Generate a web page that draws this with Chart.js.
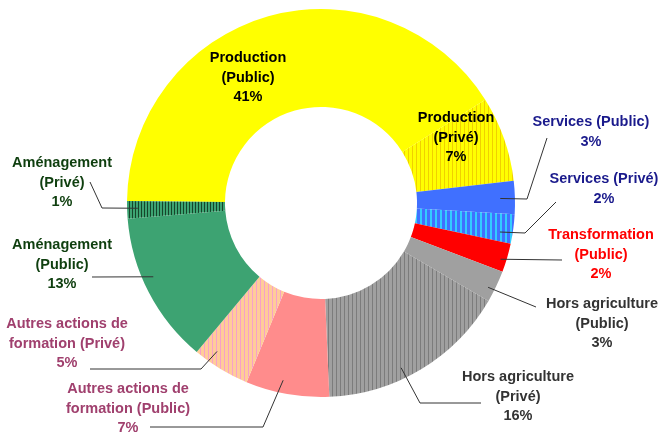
<!DOCTYPE html>
<html>
<head>
<meta charset="utf-8">
<script src="https://cdn.jsdelivr.net/npm/chart.js@4/dist/chart.umd.min.js"></script>
<style>
  html, body { margin: 0; padding: 0; background: #fff; }
  #box { width: 662px; height: 434px; }
</style>
</head>
<body>
<div id="box"><canvas id="donut"></canvas></div>
<script>
// categories, in drawing order (clockwise, starting at the left)
const categories = [
  "Production (Public)", "Production (Privé)", "Services (Public)", "Services (Privé)",
  "Transformation (Public)", "Hors agriculture (Public)", "Hors agriculture (Privé)",
  "Autres actions de formation (Public)", "Autres actions de formation (Privé)",
  "Aménagement (Public)", "Aménagement (Privé)"
];
// share of each category, in %
const shares = [40.9, 7.1, 2.75, 2.45, 2.4, 2.65, 15.9, 6.95, 4.8, 12.65, 1.45];
// label text lines (the % line is added from the data)
const labelLines = [
  ["Production", "(Public)"],
  ["Production", "(Privé)"],
  ["Services (Public)"],
  ["Services (Privé)"],
  ["Transformation", "(Public)"],
  ["Hors agriculture", "(Public)"],
  ["Hors agriculture", "(Privé)"],
  ["Autres actions de", "formation (Public)"],
  ["Autres actions de", "formation (Privé)"],
  ["Aménagement", "(Public)"],
  ["Aménagement", "(Privé)"]
];

// label layout: text centre x, first line y, text colour,
// leader start inside the slice (fraction of angle, fraction of ring depth), elbows
const labelLayout = [
  { x: 248, y: 58, color: "#000000", path: null },
  { x: 456, y: 118, color: "#000000", path: null },
  { x: 591, y: 122, color: "#1a1a8c", at: [0.52, 0.85], path: [[527, 199], [547, 138]] },
  { x: 604, y: 179, color: "#1a1a8c", at: [0.67, 0.87], path: [[525, 233], [556, 202]] },
  { x: 601, y: 235, color: "#ff0000", at: [0.61, 0.94], path: [[562, 260]] },
  { x: 602, y: 304, color: "#333333", at: [0.63, 0.93], path: [[536, 307]] },
  { x: 518, y: 377, color: "#333333", at: [0.59, 0.89], path: [[420, 403], [481, 403]] },
  { x: 128, y: 389, color: "#a0406e", at: [0.58, 0.87], path: [[263, 427], [150, 427]] },
  { x: 67, y: 324, color: "#a0406e", at: [0.72, 0.87], path: [[201, 369], [90, 369]] },
  { x: 62, y: 245, color: "#0f3f0f", at: [0.58, 0.89], path: [[92, 277]] },
  { x: 62, y: 163, color: "#0f3f0f", at: [0.57, 0.89], path: [[102, 208], [90, 182]] }
];

function stripes(bg, fg, period, w) {
  const c = document.createElement("canvas");
  c.width = period; c.height = 8;
  const g = c.getContext("2d");
  g.fillStyle = bg; g.fillRect(0, 0, period, 8);
  g.fillStyle = fg; g.fillRect(0, 0, w, 8);
  return g.createPattern(c, "repeat");
}

const fills = [
  "#ffff00",
  stripes("#ffff00", "#f0d000", 4, 1),
  "#4070ff",
  stripes("#4070ff", "#33ccff", 5, 2),
  "#ff0000",
  "#a0a0a0",
  stripes("#a0a0a0", "#7c7c7c", 4, 1),
  "#ff8c8c",
  stripes("#ffcc99", "#f7a0c8", 4, 1),
  "#3da372",
  stripes("#3da372", "#16442a", 3, 1)
];

const labelPlugin = {
  id: "sliceLabels",
  afterDatasetsDraw(chart) {
    const ctx = chart.ctx;
    const arcs = chart.getDatasetMeta(0).data;
    ctx.save();
    ctx.font = "bold 14.5px 'Liberation Sans', Arial, sans-serif";
    ctx.textAlign = "center";
    ctx.textBaseline = "middle";
    arcs.forEach((arc, i) => {
      const lay = labelLayout[i];
      if (lay.path) {
        const a = arc.startAngle + lay.at[0] * (arc.endAngle - arc.startAngle);
        const r = arc.innerRadius + lay.at[1] * (arc.outerRadius - arc.innerRadius);
        ctx.beginPath();
        ctx.moveTo(arc.x + r * Math.cos(a), arc.y + r * Math.sin(a));
        lay.path.forEach(p => ctx.lineTo(p[0], p[1]));
        ctx.strokeStyle = "#333333";
        ctx.lineWidth = 1;
        ctx.stroke();
      }
      const lines = labelLines[i].concat([Math.round(shares[i]) + "%"]);
      ctx.fillStyle = lay.color;
      lines.forEach((t, k) => ctx.fillText(t, lay.x, lay.y + k * 19.5));
    });
    ctx.restore();
  }
};

new Chart("donut", {
  type: "doughnut",
  data: {
    labels: categories,
    datasets: [{
      data: shares,
      backgroundColor: fills,
      borderWidth: 0
    }]
  },
  options: {
    responsive: true,
    maintainAspectRatio: false,
    animation: false,
    events: [],
    rotation: 270.6,
    cutout: "49.5%",
    layout: { padding: { top: 9, bottom: 37, left: 127, right: 147 } },
    plugins: {
      legend: { display: false },
      tooltip: { enabled: false }
    }
  },
  plugins: [labelPlugin]
});
</script>
</body>
</html>
